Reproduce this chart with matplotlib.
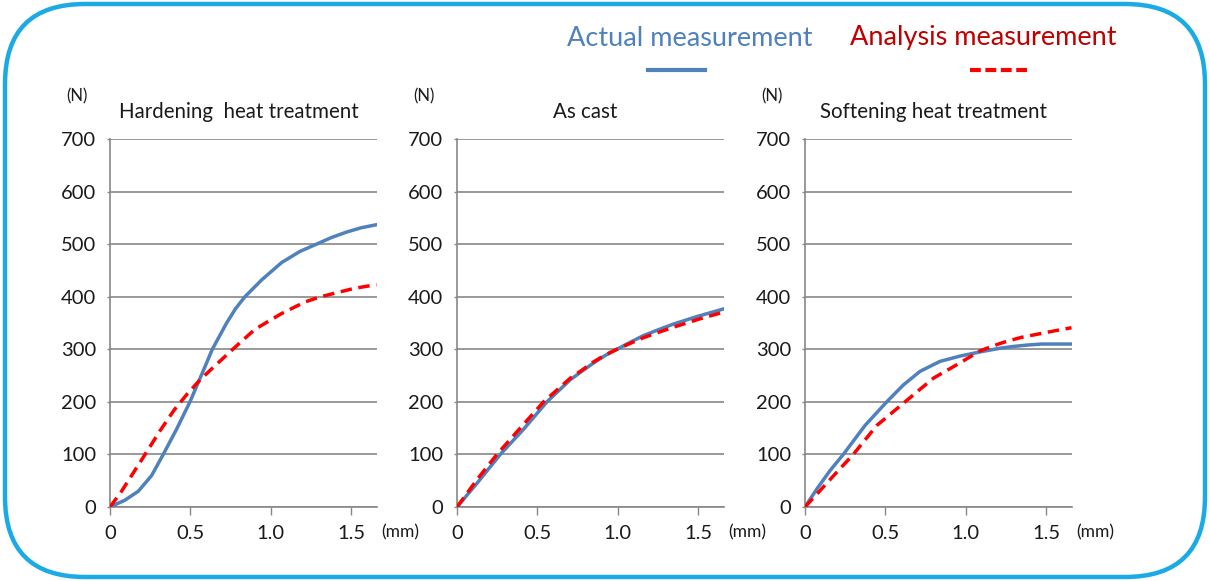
import matplotlib
matplotlib.use("Agg")
import matplotlib.pyplot as plt
from matplotlib.patches import FancyBboxPatch
from matplotlib.lines import Line2D
from matplotlib.transforms import IdentityTransform

plt.rcParams['font.family'] = ['Lato', 'DejaVu Sans']

# ---------------- data ----------------
titles = ["Hardening  heat treatment", "As cast", "Softening heat treatment"]
series_names = ["Actual measurement", "Analysis measurement"]

hard_actual_x = [0, 0.093, 0.176, 0.259, 0.331, 0.414, 0.497, 0.570, 0.636, 0.725, 0.780, 0.839,
                 0.943, 1.067, 1.180, 1.284, 1.380, 1.471, 1.560, 1.657]
hard_actual_y = [0, 13, 30, 60, 100, 148, 200, 252, 300, 350, 377, 400,
                 432, 465, 486, 500, 513, 523, 531, 537]
hard_analysis_x = [0, 0.072, 0.145, 0.218, 0.311, 0.400, 0.480, 0.560, 0.640, 0.756, 0.901,
                   1.067, 1.212, 1.300, 1.388, 1.520, 1.657]
hard_analysis_y = [0, 30, 65, 100, 145, 185, 215, 242, 265, 298, 338,
                   368, 390, 399, 406, 416, 423]

cast_actual_x = [0, 0.124, 0.269, 0.414, 0.559, 0.704, 0.780, 0.849, 0.920, 0.994, 1.075,
                 1.159, 1.250, 1.346, 1.500, 1.660]
cast_actual_y = [0, 45, 100, 148, 200, 242, 259, 274, 288, 300, 313,
                 326, 337, 348, 363, 377]
cast_analysis_x = [0, 0.124, 0.248, 0.393, 0.538, 0.704, 0.780, 0.849, 0.920, 0.994, 1.075,
                   1.159, 1.250, 1.346, 1.500, 1.660]
cast_analysis_y = [0, 52, 100, 150, 200, 245, 261, 276, 289, 300, 311,
                   322, 332, 342, 357, 371]

soft_actual_x = [0, 0.073, 0.155, 0.238, 0.373, 0.508, 0.611, 0.715, 0.839, 0.963, 1.088,
                 1.212, 1.284, 1.380, 1.471, 1.560, 1.657]
soft_actual_y = [0, 34, 69, 100, 155, 200, 232, 258, 277, 287, 295,
                 302, 305, 308, 310, 310, 310]
soft_analysis_x = [0, 0.093, 0.197, 0.300, 0.446, 0.622, 0.798, 0.963, 1.088, 1.212, 1.264,
                   1.350, 1.450, 1.550, 1.657]
soft_analysis_y = [0, 31, 66, 100, 155, 200, 245, 274, 297, 311, 316,
                   323, 329, 335, 341]

x_ticks = [0, 0.5, 1.0, 1.5]
x_tick_labels = ["0", "0.5", "1.0", "1.5"]
y_ticks = [0, 100, 200, 300, 400, 500, 600, 700]

panels = [
    (hard_actual_x, hard_actual_y, hard_analysis_x, hard_analysis_y),
    (cast_actual_x, cast_actual_y, cast_analysis_x, cast_analysis_y),
    (soft_actual_x, soft_actual_y, soft_analysis_x, soft_analysis_y),
]

# ---------------- style ----------------
W, H = 1210, 581
BLUE = "#4f81bd"
RED = "#ff0000"
RED_TXT = "#c00000"
GRID = "#878787"
CYAN = "#1babe4"
TXT = "#1a1a1a"

fig = plt.figure(figsize=(W / 100, H / 100), dpi=100)
fig.patch.set_facecolor("white")

# rounded border
border = FancyBboxPatch((5 + 80, 4 + 80), W - 10 - 160, H - 8 - 160,
                        boxstyle="round,pad=80,rounding_size=80",
                        transform=IdentityTransform(), facecolor="none",
                        edgecolor=CYAN, linewidth=3.2)
fig.patches.append(border)

lefts = [110, 457, 805]
ax_w = 267
ax_top, ax_bot = 139, 507

for i, (ax_left, title, (ax_x, ax_y, an_x, an_y)) in enumerate(zip(lefts, titles, panels)):
    ax = fig.add_axes([ax_left / W, 1 - ax_bot / H, ax_w / W, (ax_bot - ax_top) / H])
    ax.set_xlim(0, 1.66)
    ax.set_ylim(0, 700)
    ax.set_yticks(y_ticks)
    ax.set_xticks(x_ticks)
    ax.set_xticklabels(x_tick_labels)
    ax.grid(axis="y", color=GRID, linewidth=1.2)
    ax.set_axisbelow(True)
    for s in ["top", "right"]:
        ax.spines[s].set_visible(False)
    for s in ["left", "bottom"]:
        ax.spines[s].set_color(GRID)
        ax.spines[s].set_linewidth(1.2)
    ax.tick_params(axis="x", direction="out", length=6, width=1.0, color=GRID,
                   labelsize=14.5, labelcolor=TXT, pad=7)
    ax.tick_params(axis="y", direction="out", length=2, width=1.0, color=GRID,
                   labelsize=14.5, labelcolor=TXT, pad=8)

    ax.plot(ax_x, ax_y, color=BLUE, linewidth=2.5, solid_capstyle="round",
            solid_joinstyle="round", zorder=3)
    ax.plot(an_x, an_y, color=RED, linewidth=2.5, linestyle=(0, (3.3, 1.9)), zorder=4)

    # title
    fig.text((ax_left + ax_w / 2 - 5) / W, 1 - 112 / H, title, ha="center", va="center",
             fontsize=14.8, color=TXT)
    # unit labels
    fig.text((ax_left - 33) / W, 1 - 96 / H, "(N)", ha="center", va="center",
             fontsize=12, color=TXT)
    fig.text((ax_left + ax_w + 23) / W, 1 - 532 / H, "(mm)", ha="center", va="center",
             fontsize=12.5, color=TXT)

# legend
fig.text(690 / W, 1 - 38 / H, series_names[0], ha="center", va="center",
         fontsize=19.5, color=BLUE)
fig.text(983 / W, 1 - 38 / H, series_names[1], ha="center", va="center",
         fontsize=19.5, color=RED_TXT)
fig.lines.append(Line2D([648 / W, 705 / W], [1 - 70 / H, 1 - 70 / H],
                        transform=fig.transFigure, color=BLUE, linewidth=3))
fig.lines.append(Line2D([970 / W, 1027 / W], [1 - 70 / H, 1 - 70 / H],
                        transform=fig.transFigure, color=RED, linewidth=3,
                        linestyle=(0, (2.6, 1.1))))

fig.savefig("out.png", dpi=100, facecolor="white")
